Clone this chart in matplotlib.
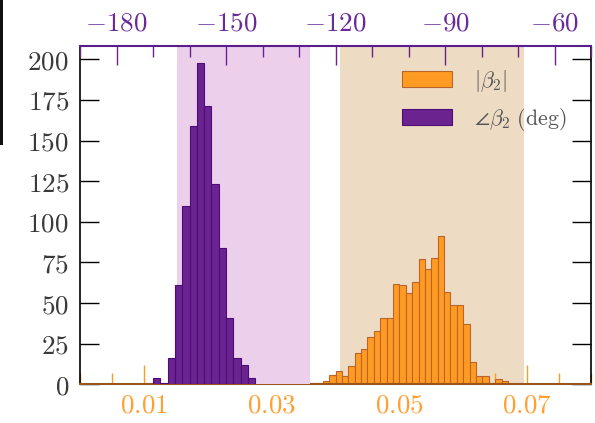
import numpy as np
import matplotlib
matplotlib.use("Agg")
import matplotlib.pyplot as plt
from matplotlib.ticker import MultipleLocator
from matplotlib.patches import Rectangle

plt.rcParams["mathtext.fontset"] = "cm"

# ===================== DATA =====================
# |beta_2| histogram (bottom axis), bin width 0.001
mag_first_edge = 0.036
mag_bin_width = 0.001
mag_counts = [1, 1, 2, 6, 8, 5, 11, 19, 22, 29, 33, 41, 41, 62, 61, 56,
              63, 77, 71, 78, 91, 57, 49, 49, 37, 14, 5, 5, 1, 3, 2]

# angle(beta_2) histogram in degrees (top axis), bin width 2
ang_first_edge = -170
ang_bin_width = 2
ang_counts = [4, 1, 16, 61, 110, 159, 198, 171, 123, 84, 41, 16, 12, 4]

# shaded intervals
mag_band = (0.0407, 0.0695)
ang_band = (-163.3, -127.0)

bottom_ticks = [0.01, 0.03, 0.05, 0.07]
top_ticks = [-180, -150, -120, -90, -60]
y_ticks = [0, 25, 50, 75, 100, 125, 150, 175, 200]

# ===================== STYLE =====================
ORANGE = "#ff9a22"
ORANGE_EDGE = "#b9662c"
PURPLE = "#6b2390"
PURPLE_EDGE = "#4c0d78"
PURPLE_SHADE = "#ebcfeb"
TAN_SHADE = "#eedbc3"
FS = 19.5

# ===================== FIGURE =====================
fig = plt.figure(figsize=(5.95, 4.23), dpi=100)
ax = fig.add_axes([80 / 595, 1 - 384.3 / 423, 511 / 595, 338.6 / 423])
ax2 = ax.twiny()

mag_edges = mag_first_edge + mag_bin_width * np.arange(len(mag_counts))
ang_edges = ang_first_edge + ang_bin_width * np.arange(len(ang_counts))

ax.axvspan(*mag_band, color=TAN_SHADE, lw=0, zorder=0)
ax2.axvspan(*ang_band, color=PURPLE_SHADE, lw=0, zorder=0)

h1 = ax.bar(mag_edges, mag_counts, width=mag_bin_width, align="edge",
            color=ORANGE, edgecolor=ORANGE_EDGE, linewidth=0.8, zorder=2,
            label=r"$|\beta_2|$")
h2 = ax2.bar(ang_edges, ang_counts, width=ang_bin_width, align="edge",
             color=PURPLE, edgecolor=PURPLE_EDGE, linewidth=0.8, zorder=2,
             label=r"$\angle\beta_2\ \mathrm{(deg)}$")

ax.set_xlim(0, 0.08)
ax2.set_xlim(-190, -50)
ax.set_ylim(0, 208.4)

# bottom axis (|beta_2|)
ax.set_xticks(bottom_ticks)
ax.set_xticklabels([f"${t:.2f}$" for t in bottom_ticks])
ax.xaxis.set_minor_locator(MultipleLocator(0.005))
ax.tick_params(axis="x", which="both", direction="in", colors=ORANGE,
               labelcolor="#ffa033", labelsize=FS, pad=6, width=1.0)
ax.tick_params(axis="x", which="major", length=14)
ax.tick_params(axis="x", which="minor", length=8)

# y axis
ax.set_yticks(y_ticks)
ax.set_yticklabels([f"${t}$" for t in y_ticks])
ax.tick_params(axis="y", which="both", direction="in", left=True, right=True,
               length=14, width=1.0, colors="black", labelcolor="#3a3a3a",
               labelsize=FS, pad=8)

# top axis (angle)
ax2.set_xticks(top_ticks)
ax2.set_xticklabels([f"${t}$" for t in top_ticks])
ax2.xaxis.set_minor_locator(MultipleLocator(10))
ax2.tick_params(axis="x", which="both", direction="in", colors=PURPLE,
                labelcolor="#6a2a9a", labelsize=FS, pad=6.5, width=1.0)
ax2.tick_params(axis="x", which="major", length=14)
ax2.tick_params(axis="x", which="minor", length=8)

# spines
ax.spines["top"].set_visible(False)
ax.spines["bottom"].set_color("#9a5518")
ax.spines["bottom"].set_linewidth(1.5)
ax.spines["left"].set_linewidth(1.2)
ax.spines["right"].set_linewidth(1.2)
for s in ["bottom", "left", "right"]:
    ax2.spines[s].set_visible(False)
ax2.spines["top"].set_color("#5a1e8c")
ax2.spines["top"].set_linewidth(1.5)

leg = ax2.legend(handles=[h1, h2], loc="upper left",
                 bbox_to_anchor=(0.63, 0.935), frameon=False,
                 fontsize=15.8, handlelength=2.3, handleheight=0.75,
                 handletextpad=1.0, labelspacing=0.55, borderpad=0,
                 borderaxespad=0)
for t in leg.get_texts():
    t.set_color("#555555")

# dark edge strip at the far left of the original image
fig.add_artist(Rectangle((0, 1 - 145 / 423), 3.3 / 595, 145 / 423,
                         transform=fig.transFigure, color="#111111", lw=0))

fig.savefig("out.png", dpi=100)
